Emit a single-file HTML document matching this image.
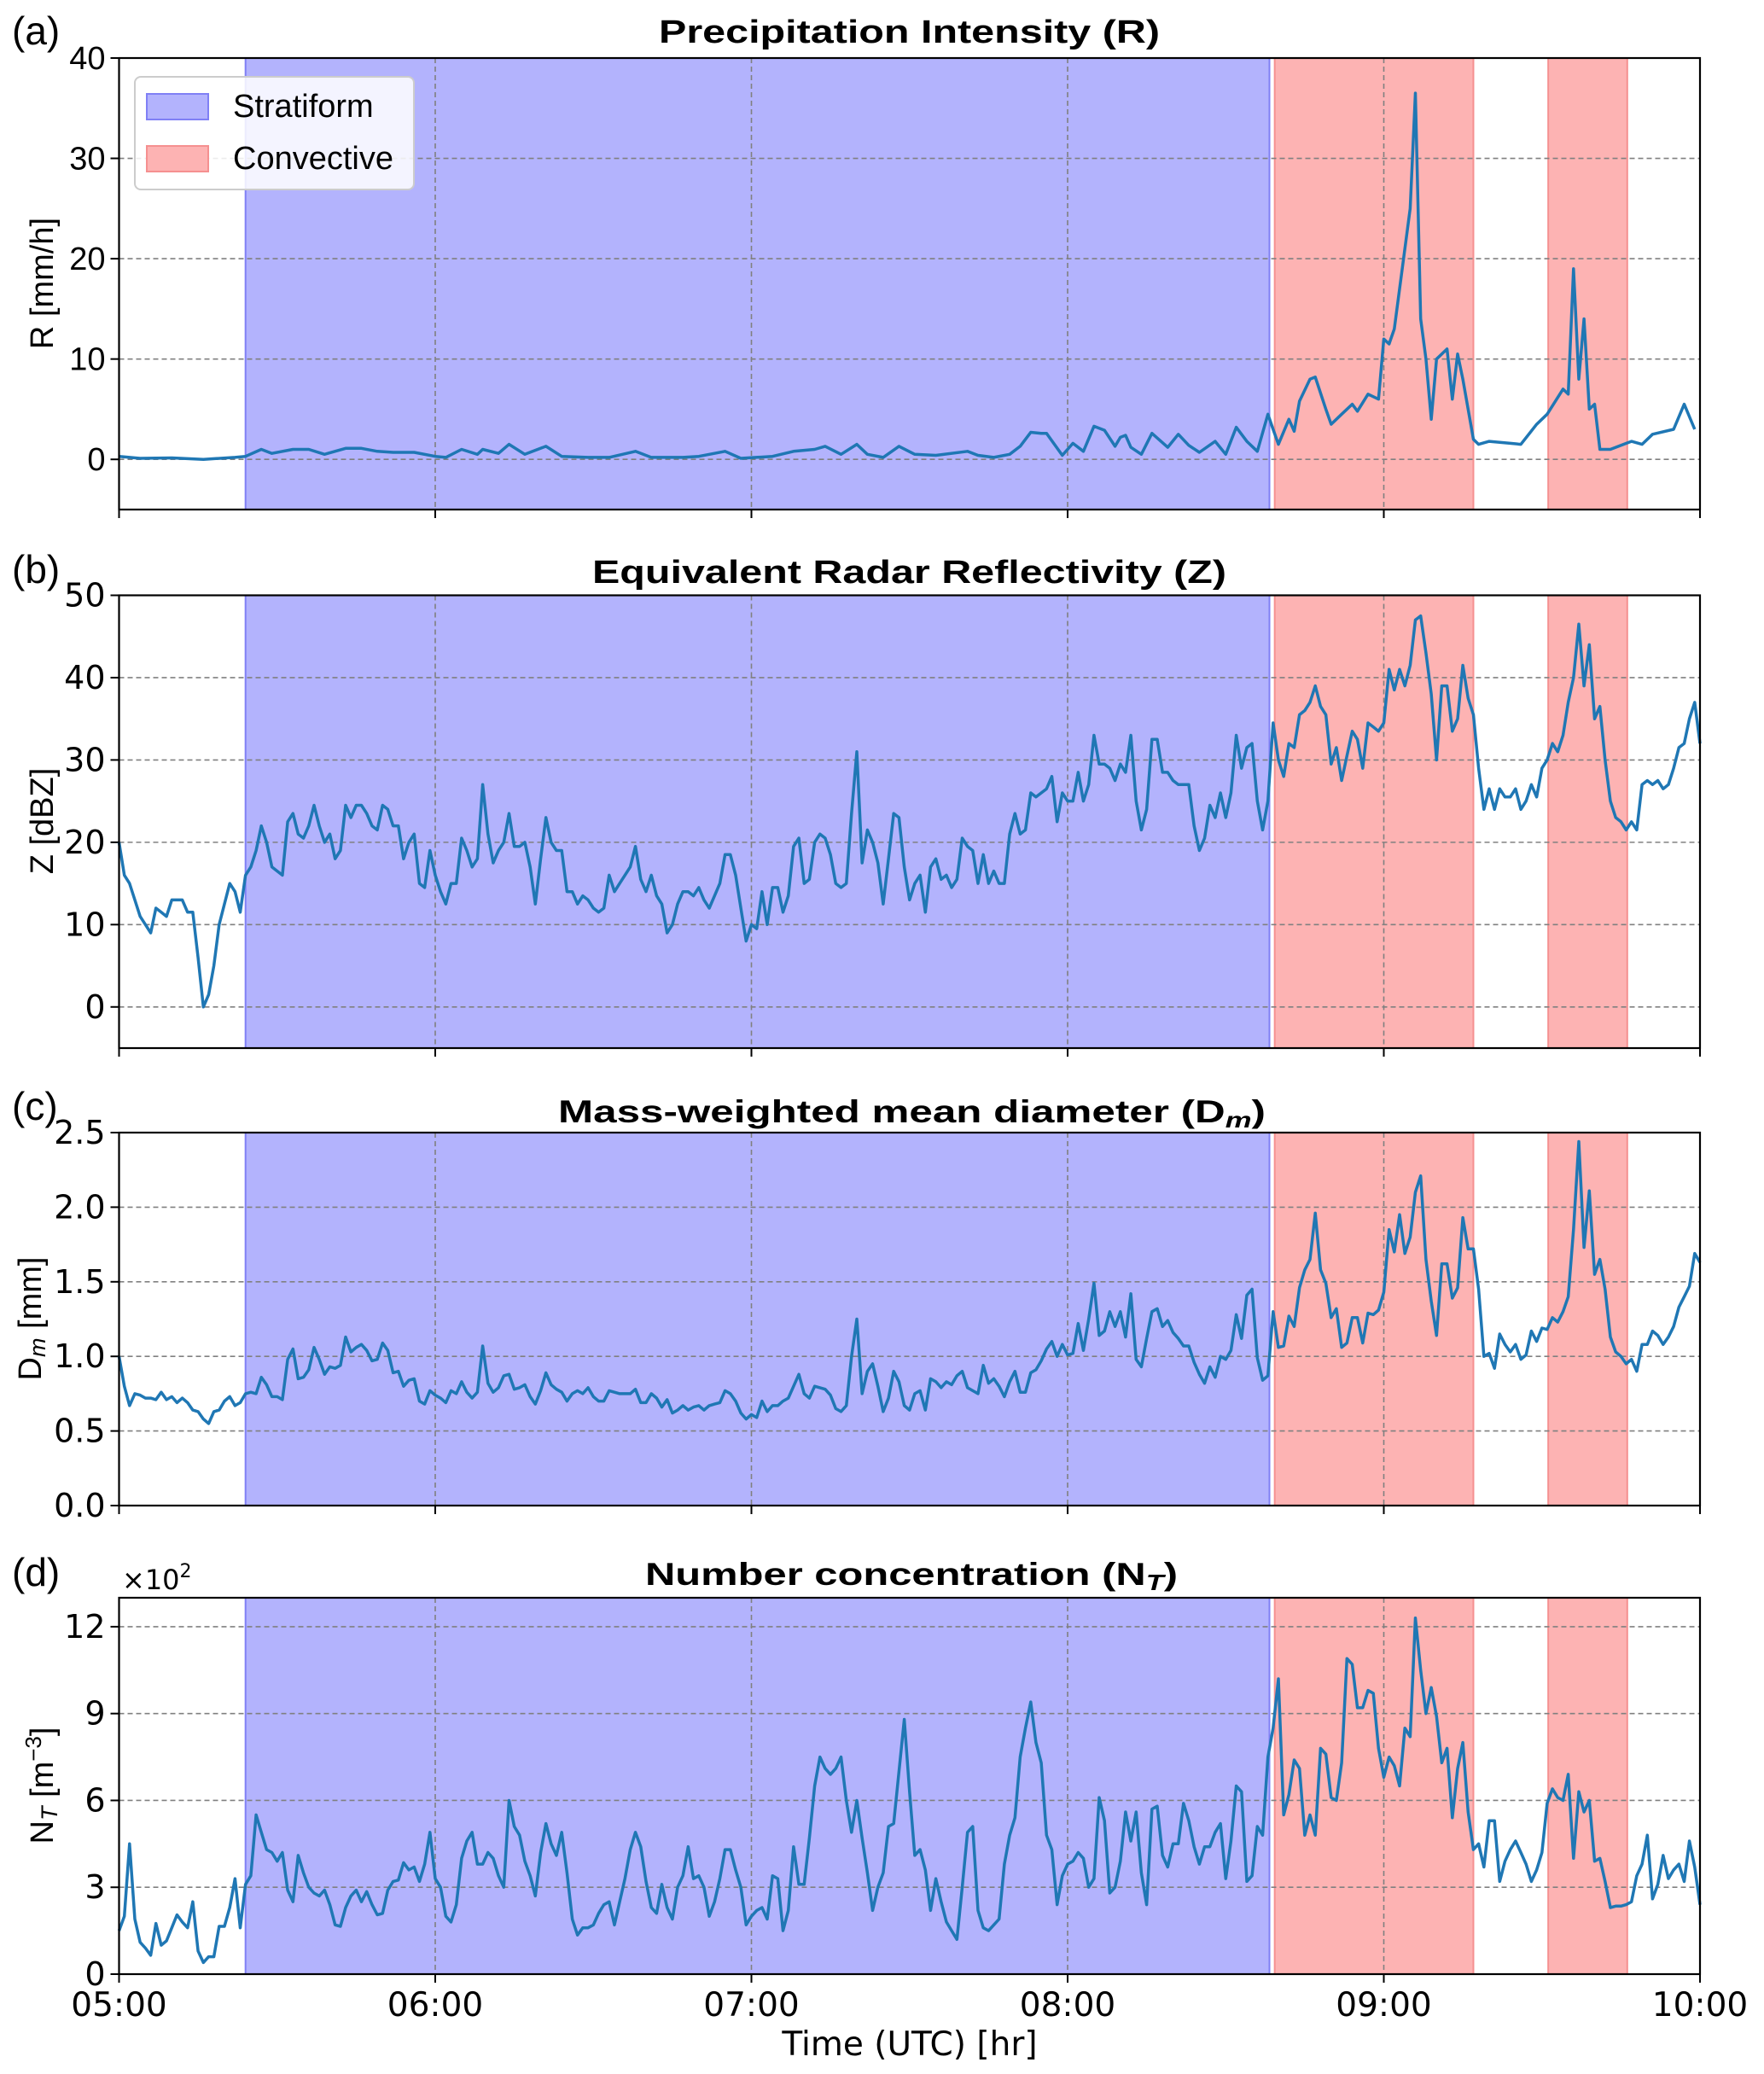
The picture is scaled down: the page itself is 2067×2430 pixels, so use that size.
<!DOCTYPE html>
<html><head><meta charset="utf-8"><title>Precipitation time series</title>
<style>
html,body{margin:0;padding:0;background:#fff;}
svg{display:block;}
</style></head>
<body>
<svg id="fig" xmlns="http://www.w3.org/2000/svg" width="2067" height="2430" viewBox="0 0 2067 2430"></svg>
<script>
// ---------- data (minutes after 05:00) ----------
const rTimes = [0,4,10,16,22,24,27,29,33,36,39,43,46,49,52,56,60,62,65,68,69,72,74,77,81,84,89,93,98,101,107,110,115,118,124,128,132,134,137,140,142,145,148,151,155,161,163,166,169,171,173,175,176,179,181,183,185,187,189,190,191,192,194,196,199,201,203,205,208,210,212,214,216,218,219,220,222,223,224,226,227,229,230,232,234,235,237,239,240,241,242,243,245,246,247,248,249,250,252,253,254,255,256,257,258,260,264,266,269,271,274,275,276,277,278,279,280,281,283,287,289,291,295,297,299,300];
const rValues = [0.3,0.1,0.15,0,0.2,0.3,1,0.6,1,1,0.5,1.1,1.1,0.8,0.7,0.7,0.3,0.2,1,0.5,1,0.6,1.5,0.5,1.3,0.3,0.2,0.2,0.8,0.2,0.2,0.3,0.8,0.1,0.3,0.8,1,1.3,0.5,1.5,0.5,0.2,1.3,0.5,0.4,0.8,0.4,0.2,0.5,1.3,2.7,2.6,2.6,0.4,1.6,0.8,3.3,2.9,1.3,2.2,2.4,1.2,0.5,2.6,1.2,2.5,1.4,0.7,1.8,0.5,3.2,1.8,0.8,4.5,3,1.5,4,2.8,5.8,8,8.2,5,3.5,4.5,5.5,4.8,6.5,6,12,11.5,13,17,25,36.5,14,10,4,10,11,6,10.5,8,5,2,1.5,1.8,1.6,1.5,3.5,4.5,7,6.5,19,8,14,5,5.5,1,1,1.8,1.5,2.5,3,5.5,3];

const zValues = [
20,16,15,13,11,10,9,12,11.5,11,
13,13,13,11.5,11.5,6,0,1.5,5,10,
12.5,15,14,11.5,16,17,19,22,20,17,
16.5,16,22.5,23.5,21,20.5,22,24.5,22,20,
21,18,19,24.5,23,24.5,24.5,23.5,22,21.5,
24.5,24,22,22,18,20,21,15,14.5,19,
16,14,12.5,15,15,20.5,19,17,18,27,
21,17.5,19,20,23.5,19.5,19.5,20,17,12.5,
18,23,20,19,19,14,14,12.5,13.5,13,
12,11.5,12,16,14,15,16,17,19.5,15.5,
14,16,13.5,12.5,9,10,12.5,14,14,13.5,
14.5,13,12,13.5,15,18.5,18.5,16,12,8,
10,9.5,14,10,14.5,14.5,11.5,13.5,19.5,20.5,
15,15.5,20,21,20.5,18.5,15,14.5,15,23.5,
31,17.5,21.5,20,17.5,12.5,18,23.5,23,17,
13,15,16,11.5,17,18,15.5,16,14.5,15.5,
20.5,
19.5,19,15,18.5,15,16.5,15,15,21,23.5,
21,21.5,26,25.5,26,26.5,28,22.5,26,25,
25,28.5,25,27,33,29.5,29.5,29,27.5,29.5,
28.5,33,25,21.5,24,32.5,32.5,28.5,28.5,27.5,
27,27,27,22,19,20.5,24.5,23,26,23,
26,33,29,31.5,32,25,21.5,25,34.5,30,
28,32,31.5,35.5,36,37,39,36.5,35.5,29.5,
31.5,27.5,30.5,33.5,32.5,29,34.5,34,33.5,34.5,
41,38.5,41,39,41.5,47,47.5,43,38,30,
39,39,33.5,35,41.5,37.5,35.5,29,24,26.5,
24,26.5,25.5,25.5,26.5,24,25,27,25.5,29,
30,32,31,33,37,40,46.5,39,44,35,
36.5,30,25,23,22.5,21.5,22.5,21.5,27,27.5,
27,27.5,26.5,27,29,31.5,32,35,37,32];

const dmValues = [
1.0,0.8,0.67,0.75,0.74,0.72,0.72,0.71,0.76,0.71,
0.73,0.69,0.72,0.69,0.64,0.63,0.58,0.55,0.63,0.64,
0.7,0.73,0.67,0.69,0.75,0.76,0.75,0.86,0.81,0.73,
0.73,0.71,0.98,1.05,0.85,0.86,0.91,1.06,0.98,0.88,
0.93,0.92,0.94,1.13,1.03,1.06,1.08,1.04,0.97,0.98,
1.09,1.04,0.89,0.9,0.8,0.84,0.85,0.7,0.68,0.77,
0.74,0.72,0.69,0.77,0.75,0.83,0.76,0.72,0.76,1.07,
0.82,0.76,0.79,0.87,0.88,0.78,0.79,0.81,0.73,0.68,
0.77,0.89,0.81,0.78,0.76,0.7,0.75,0.77,0.75,0.79,
0.73,0.7,0.7,0.77,0.76,0.75,0.75,0.75,0.78,0.69,
0.69,0.75,0.72,0.66,0.71,0.62,0.64,0.67,0.64,0.66,
0.67,0.64,0.67,0.68,0.69,0.77,0.75,0.7,0.62,0.58,
0.61,0.59,0.7,0.63,0.67,0.67,0.7,0.72,0.8,0.88,
0.75,0.72,0.8,0.79,0.78,0.74,0.65,0.63,0.67,1.0,
1.25,0.75,0.9,0.95,0.8,0.63,0.72,0.9,0.83,0.67,
0.64,0.75,0.77,0.64,0.85,0.83,0.79,0.83,0.81,0.87,
0.9,
0.79,0.77,0.75,0.94,0.82,0.85,0.8,0.73,0.83,0.9,
0.76,0.76,0.89,0.91,0.97,1.05,1.1,1.0,1.08,1.01,
1.02,1.22,1.04,1.25,1.49,1.14,1.17,1.3,1.2,1.3,
1.13,1.42,0.98,0.93,1.12,1.3,1.32,1.2,1.24,1.16,
1.12,1.07,1.07,0.96,0.88,0.82,0.93,0.86,1.0,0.98,
1.04,1.28,1.12,1.41,1.45,0.99,0.84,0.87,1.3,1.06,
1.07,1.27,1.2,1.46,1.58,1.65,1.96,1.58,1.49,1.26,
1.32,1.06,1.09,1.26,1.26,1.09,1.29,1.28,1.31,1.43,
1.85,1.7,1.95,1.69,1.8,2.1,2.21,1.65,1.37,1.14,
1.62,1.62,1.39,1.46,1.93,1.72,1.72,1.45,1.0,1.02,
0.92,1.15,1.08,1.03,1.08,0.98,1.01,1.17,1.1,1.19,
1.18,1.26,1.23,1.3,1.4,1.85,2.44,1.73,2.11,1.55,
1.65,1.45,1.13,1.03,1.0,0.95,0.98,0.9,1.08,1.08,
1.17,1.14,1.08,1.13,1.2,1.33,1.4,1.47,1.69,1.63];

const ntValues = [
1.5,2,4.5,1.9,1.1,0.9,0.65,1.75,1.0,1.15,
1.6,2.05,1.8,1.6,2.5,0.8,0.4,0.6,0.6,1.65,
1.65,2.3,3.3,1.6,3.1,3.4,5.5,4.9,4.3,4.2,
3.9,4.2,2.9,2.5,4.1,3.5,3.0,2.8,2.7,2.9,
2.4,1.7,1.65,2.3,2.7,2.9,2.5,2.85,2.4,2.05,
2.1,2.9,3.2,3.25,3.85,3.6,3.7,3.2,3.8,4.9,
3.3,3.0,2.0,1.8,2.4,4.0,4.6,4.9,3.8,3.8,
4.2,4.0,3.4,3.0,6.0,5.1,4.8,3.9,3.4,2.7,
4.2,5.2,4.5,4.1,4.9,3.5,1.9,1.35,1.6,1.6,
1.7,2.1,2.4,2.5,1.7,2.5,3.3,4.3,4.9,4.4,
3.2,2.3,2.1,3.1,2.3,1.9,3.0,3.4,4.4,3.3,
3.4,3.0,2.0,2.5,3.3,4.3,4.3,3.6,3.0,1.7,
2.0,2.2,2.3,1.9,3.4,3.3,1.5,2.2,4.4,3.1,
3.1,4.7,6.5,7.5,7.1,6.9,7.1,7.5,6.0,4.9,
6.0,4.7,3.5,2.2,3.0,3.5,5.1,5.2,7.0,8.8,
6.3,4.1,4.3,3.6,2.2,3.3,2.5,1.8,1.5,1.2,
3.0,
4.9,5.1,2.2,1.6,1.5,1.7,1.9,3.8,4.8,5.4,
7.5,8.5,9.4,8.0,7.3,4.8,4.3,2.4,3.4,3.8,
3.9,4.2,4.0,3.0,3.3,6.1,5.3,2.8,3.0,3.9,
5.6,4.6,5.6,3.5,2.4,5.7,5.8,4.1,3.7,4.5,
4.5,5.9,5.3,4.4,3.8,4.4,4.4,4.9,5.2,3.3,
4.6,6.5,6.3,3.2,3.4,5.1,4.8,7.5,8.5,10.2,
5.5,6.2,7.4,7.1,4.8,5.5,4.8,7.8,7.6,6.1,
6.0,7.3,10.9,10.7,9.2,9.2,9.8,9.7,7.8,6.8,
7.5,7.2,6.5,8.5,8.2,12.3,10.5,9.0,9.9,8.9,
7.3,7.8,5.4,7.1,8.0,5.6,4.3,4.5,3.7,5.3,
5.3,3.2,3.9,4.3,4.6,4.2,3.8,3.2,3.6,4.2,
5.9,6.4,6.1,6.0,6.9,4.0,6.3,5.6,6.0,3.9,
4.0,3.2,2.3,2.35,2.35,2.4,2.5,3.4,3.8,4.8,
2.6,3.1,4.1,3.3,3.6,3.8,3.2,4.6,3.7,2.4];

const xTickLabels = ["05:00","06:00","07:00","08:00","09:00","10:00"];
const stratSpan = [24.0, 218.3];
const convSpans = [[219.3, 257.0], [271.2, 286.2]];

// ---------- layout ----------
const NS = "http://www.w3.org/2000/svg";
const svg = document.getElementById('fig');
const X0 = 139.5, X1 = 1992;
const xs = m => X0 + (m / 300) * (X1 - X0);

function el(tag, attrs, parent) {
  const e = document.createElementNS(NS, tag);
  for (const k in attrs) e.setAttribute(k, attrs[k]);
  (parent || svg).appendChild(e);
  return e;
}

function panel(cfg) {
  const g = el('g', {});
  
  
  const ys = v => cfg.bottom - (v - cfg.ymin) / (cfg.ymax - cfg.ymin) * (cfg.bottom - cfg.top);
  const H = cfg.bottom - cfg.top;
  // spans
  const s = el('rect', {x: xs(stratSpan[0]), y: cfg.top, width: xs(stratSpan[1]) - xs(stratSpan[0]), height: H, fill: '#b3b3fd', stroke: '#8080f5', 'stroke-width': 2}, g);
  
  
  convSpans.forEach(sp => {
    const r = el('rect', {x: xs(sp[0]), y: cfg.top, width: xs(sp[1]) - xs(sp[0]), height: H, fill: '#fdb3b3', stroke: '#f59090', 'stroke-width': 2}, g);
    
    
  });
  // grid
  for (let h = 1; h < 5; h++) {
    const gl = el('line', {x1: xs(h * 60), x2: xs(h * 60), y1: cfg.top, y2: cfg.bottom, stroke: '#808080', 'stroke-width': 1.6, 'stroke-dasharray': '6,4'}, g);
    
    
  }
  cfg.yticks.forEach((t, i) => {
    const y = ys(t);
    if (y > cfg.top + 2) {
      const gl = el('line', {x1: X0, x2: X1, y1: y, y2: y, stroke: '#808080', 'stroke-width': 1.6, 'stroke-dasharray': '6,4'}, g);
      
      
    }
    el('line', {x1: X0 - 10, x2: X0, y1: y, y2: y, stroke: '#000', 'stroke-width': 2}, g);
    const tl = el('text', {x: X0 - 16, y: y + 13, 'text-anchor': 'end', 'font-family': cfg.tickFont, 'font-size': 38, fill: '#000'}, g);
    tl.textContent = cfg.ytickLabels[i];
    
    
  });
  // x ticks
  for (let h = 0; h <= 5; h++) {
    el('line', {x1: xs(h * 60), x2: xs(h * 60), y1: cfg.bottom, y2: cfg.bottom + 10, stroke: '#000', 'stroke-width': 2}, g);
  }
  // series
  let d = '';
  cfg.times.forEach((t, i) => { d += (i ? 'L' : 'M') + xs(t).toFixed(1) + ',' + ys(cfg.values[i]).toFixed(1); });
  const p = el('path', {d: d, fill: 'none', stroke: '#1f77b4', 'stroke-width': 3.5, 'stroke-linejoin': 'round'}, g);
  
  
  // frame
  const fr = el('rect', {x: X0, y: cfg.top, width: X1 - X0, height: H, fill: 'none', stroke: '#000', 'stroke-width': 2.2}, g);
  
  
  return g;
}

const idx = a => a.map((_, i) => i);

panel({name: 'panel-a', top: 68, bottom: 597, ymin: -5, ymax: 40, yticks: [0,10,20,30,40], ytickLabels: ['0','10','20','30','40'], times: rTimes, values: rValues, tickFont: '"Liberation Sans", sans-serif'});
panel({name: 'panel-b', top: 697.5, bottom: 1228, ymin: -5, ymax: 50, yticks: [0,10,20,30,40,50], ytickLabels: ['0','10','20','30','40','50'], times: idx(zValues), values: zValues, tickFont: '"DejaVu Sans", sans-serif'});
panel({name: 'panel-c', top: 1327, bottom: 1764, ymin: 0, ymax: 2.5, yticks: [0,0.5,1,1.5,2,2.5], ytickLabels: ['0.0','0.5','1.0','1.5','2.0','2.5'], times: idx(dmValues), values: dmValues, tickFont: '"DejaVu Sans", sans-serif'});
panel({name: 'panel-d', top: 1872, bottom: 2313, ymin: 0, ymax: 13, yticks: [0,3,6,9,12], ytickLabels: ['0','3','6','9','12'], times: idx(ntValues), values: ntValues, tickFont: '"DejaVu Sans", sans-serif'});

// x tick labels (bottom panel)
xTickLabels.forEach((lab, i) => {
  const t = el('text', {x: xs(i * 60), y: 2362, 'text-anchor': 'middle', 'font-family': '"DejaVu Sans", sans-serif', 'font-size': 39, fill: '#000'});
  t.textContent = lab;
  
  
});
</script>

<!-- static text -->
<script>
(function(){
  const NS = "http://www.w3.org/2000/svg";
  const svg = document.getElementById('fig');
  svg.insertAdjacentHTML('beforeend', `
  <g font-family="'Liberation Sans', sans-serif" fill="#000">
    <text x="14" y="52" font-size="46">(a)</text>
    <text x="14" y="683" font-size="46">(b)</text>
    <text x="14" y="1312" font-size="46">(c)</text>
    <text x="14" y="1858" font-size="46">(d)</text>

    <text x="772" y="50" font-size="38" font-weight="bold" textLength="587" lengthAdjust="spacingAndGlyphs">Precipitation Intensity (R)</text>
    <text x="694" y="683" font-size="38" font-weight="bold" textLength="743" lengthAdjust="spacingAndGlyphs">Equivalent Radar Reflectivity (Z)</text>
    <text x="654" y="1315" font-size="37" font-weight="bold" textLength="829" lengthAdjust="spacingAndGlyphs">Mass-weighted mean diameter (D<tspan font-size="26" font-style="italic" dy="6">m</tspan><tspan dy="-6">)</tspan></text>
    <text x="756" y="1857" font-size="37" font-weight="bold" textLength="624" lengthAdjust="spacingAndGlyphs">Number concentration (N<tspan font-size="26" font-style="italic" dy="6">T</tspan><tspan dy="-6">)</tspan></text>

    <text transform="translate(62,332) rotate(-90)" text-anchor="middle" font-size="38">R [mm/h]</text>
    <text transform="translate(62,962) rotate(-90)" text-anchor="middle" font-size="38">Z [dBZ]</text>
    <text transform="translate(48,1545) rotate(-90)" text-anchor="middle" font-size="38">D<tspan font-size="27" font-style="italic" dy="5">m</tspan><tspan dy="-5"> [mm]</tspan></text>
    <text transform="translate(62,2092) rotate(-90)" text-anchor="middle" font-size="38">N<tspan font-size="27" font-style="italic" dy="5">T</tspan><tspan dy="-5"> [m</tspan><tspan font-size="26" dy="-14">−3</tspan><tspan dy="14">]</tspan></text>

    <text x="143" y="1862" font-family="'DejaVu Sans', sans-serif" font-size="32">×10<tspan font-size="22" dy="-14">2</tspan></text>

    <text x="1066" y="2408" text-anchor="middle" font-family="'DejaVu Sans', sans-serif" font-size="39">Time (UTC) [hr]</text>
  </g>
  <g>
    <rect x="158" y="90" width="327" height="132" rx="7" fill="#fff" fill-opacity="0.85" stroke="#cccccc" stroke-width="2"/>
    <rect x="172" y="110" width="72" height="30" fill="#b3b3fd" stroke="#8080f5" stroke-width="2"/>
    <text x="273" y="137" font-family="'Liberation Sans', sans-serif" font-size="38">Stratiform</text>
    <rect x="172" y="171" width="72" height="30" fill="#fdb3b3" stroke="#f59090" stroke-width="2"/>
    <text x="273" y="198" font-family="'Liberation Sans', sans-serif" font-size="38">Convective</text>
  </g>`);
})();
</script>
</body></html>
